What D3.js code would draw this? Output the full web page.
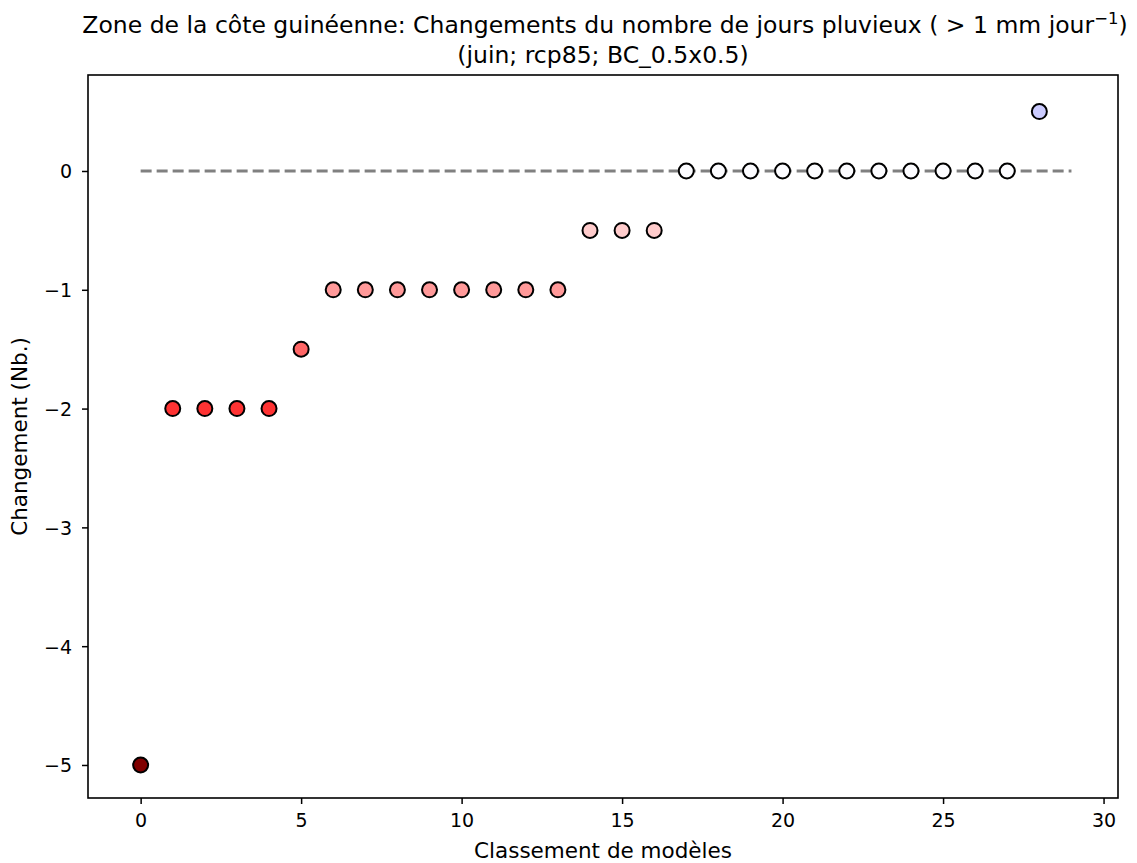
<!DOCTYPE html>
<html>
<head>
<meta charset="UTF-8">
<script src="https://d3js.org/d3.v7.min.js"></script>
<style>
  body { margin: 0; background: #fff; }
  text { font-family: "DejaVu Sans", sans-serif; fill: #000; }
</style>
</head>
<body>
<div id="container"></div>
<script>
// rang des modèles et changement du nombre de jours pluvieux
var ranks = [0,1,2,3,4,5,6,7,8,9,10,11,12,13,14,15,16,17,18,19,20,21,22,23,24,25,26,27,28];
var changes = [-5,-2,-2,-2,-2,-1.5,-1,-1,-1,-1,-1,-1,-1,-1,-0.5,-0.5,-0.5,0,0,0,0,0,0,0,0,0,0,0,0.5];
var xTicks = [0,5,10,15,20,25,30];
var yTicks = [0,-1,-2,-3,-4,-5];
var refLine = [0, 29];

var W = 1137, H = 863;
var mL = 88, mR = 1118, mT = 75, mB = 798;

var svg = d3.select("#container").append("svg")
  .attr("width", W).attr("height", H);

var x = d3.scaleLinear().domain([-1.64, 30.45]).range([mL, mR]);
var y = d3.scaleLinear().domain([-5.278, 0.808]).range([mB, mT]);

// couleur selon la valeur (palette divergente rouge-blanc-bleu)
var color = d3.scaleLinear()
  .domain([-5, -2, -1.5, -1, -0.5, 0, 0.5])
  .range(["#800000", "#ff3333", "#ff6666", "#ff9999", "#ffcccc", "#fcfcff", "#ccccff"]);

var fmt = function(d){ return d < 0 ? "\u2212" + Math.abs(d) : d; };

// ligne de référence
svg.append("line")
  .attr("x1", x(refLine[0])).attr("x2", x(refLine[1]))
  .attr("y1", y(0)).attr("y2", y(0))
  .attr("stroke", "#808080").attr("stroke-width", 3)
  .attr("stroke-dasharray", "11,5");

// points
svg.selectAll("circle.pt")
  .data(ranks)
  .enter().append("circle")
  .attr("class", "pt")
  .attr("cx", function(d){ return x(d); })
  .attr("cy", function(d, i){ return y(changes[i]); })
  .attr("r", 7.5)
  .attr("fill", function(d, i){ return color(changes[i]); })
  .attr("stroke", "#000").attr("stroke-width", 2);

// axes
var xAxis = d3.axisBottom(x).tickValues(xTicks).tickSize(6).tickPadding(10);
var yAxis = d3.axisLeft(y).tickValues(yTicks).tickSize(6).tickPadding(10).tickFormat(fmt);

var gx = svg.append("g").attr("transform", "translate(0," + mB + ")").call(xAxis);
var gy = svg.append("g").attr("transform", "translate(" + mL + ",0)").call(yAxis);
[gx, gy].forEach(function(g){
  g.select(".domain").remove();
  g.selectAll("line").attr("stroke", "#000").attr("stroke-width", 1.5);
  g.selectAll("text").style("font-size", "19px").style("font-family", "DejaVu Sans");
});
gy.selectAll("text").attr("dy", "0.36em");

// cadre
svg.append("rect")
  .attr("x", mL).attr("y", mT)
  .attr("width", mR - mL).attr("height", mB - mT)
  .attr("fill", "none").attr("stroke", "#000").attr("stroke-width", 1.6);

// titres
var cx = (mL + mR) / 2;
var t1 = svg.append("text").attr("x", cx + 2).attr("y", 33)
  .attr("text-anchor", "middle").style("font-size", "23.5px");
t1.append("tspan").text("Zone de la côte guinéenne: Changements du nombre de jours pluvieux ( > 1 mm jour");
t1.append("tspan").attr("dy", -9).style("font-size", "16.5px").text("\u22121");
t1.append("tspan").attr("dy", 9).text(")");

svg.append("text").attr("x", cx).attr("y", 63)
  .attr("text-anchor", "middle").style("font-size", "23.5px")
  .text("(juin; rcp85; BC_0.5x0.5)");

svg.append("text").attr("x", cx).attr("y", 858)
  .attr("text-anchor", "middle").style("font-size", "21.5px")
  .text("Classement de modèles");

svg.append("text")
  .attr("transform", "translate(27," + ((mT + mB) / 2) + ") rotate(-90)")
  .attr("text-anchor", "middle").style("font-size", "21.5px")
  .text("Changement (Nb.)");
</script>
</body>
</html>
